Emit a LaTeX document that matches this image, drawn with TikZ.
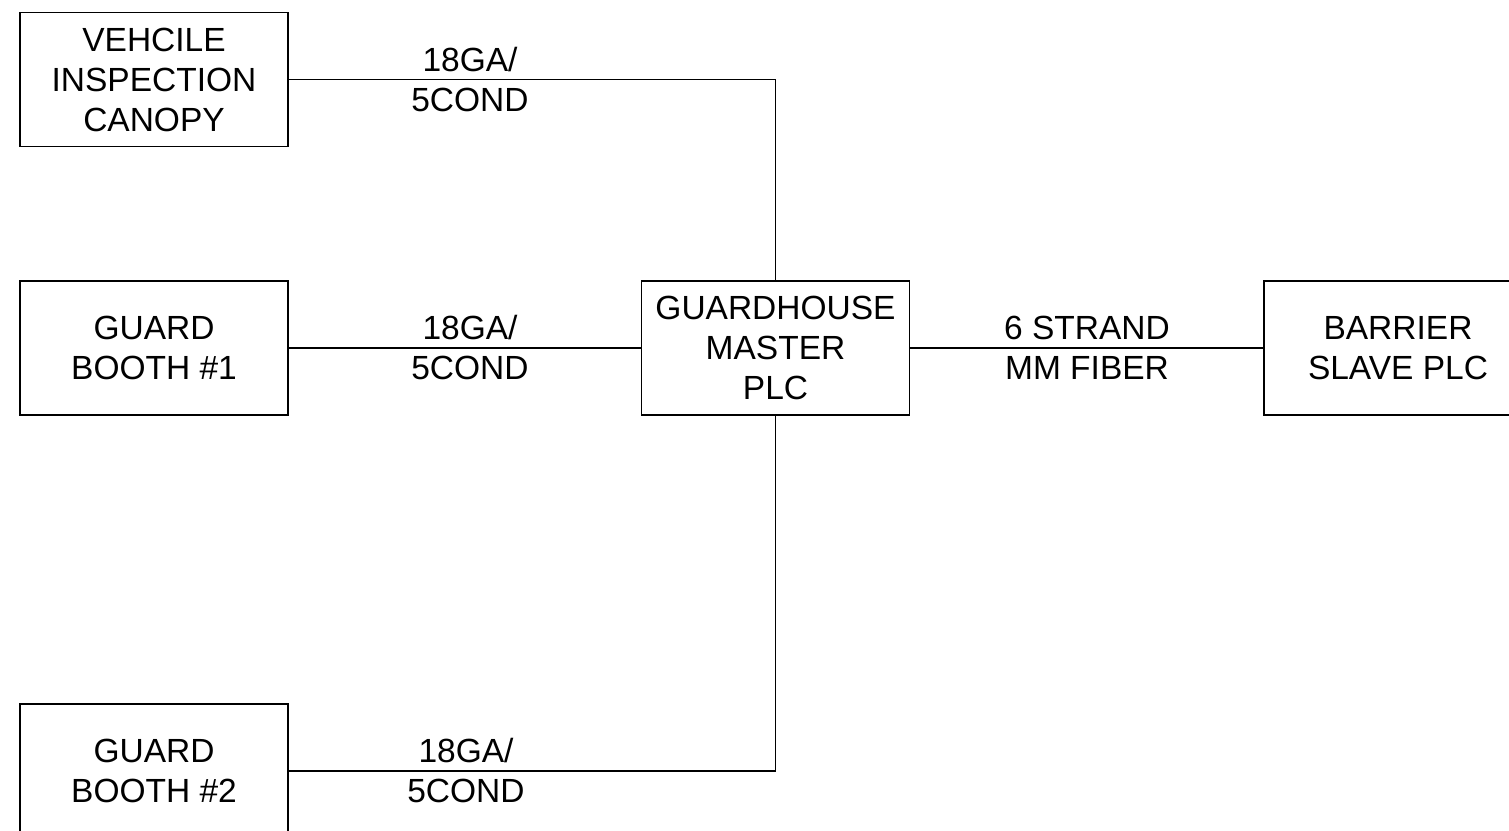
\documentclass[tikz,border=0pt]{standalone}
\usepackage{fontspec}
\setmainfont{Liberation Sans}
\begin{document}
\begin{tikzpicture}[x=1pt,y=-1pt,
  blk/.style={draw,line width=1.9pt,minimum width=268pt,minimum height=134pt,align=center,inner sep=0pt,
    font=\fontsize{33.5}{40}\selectfont},
  lbl/.style={align=center,inner sep=0pt,font=\fontsize{33.5}{40}\selectfont},
  wire/.style={line width=1.6pt}]
\clip (0,0) rectangle (1509,830);
\useasboundingbox (0,0) rectangle (1509,830);
\node[blk] (canopy) at (154,79.5) {VEHCILE\\INSPECTION\\CANOPY};
\node[blk] (booth1) at (154,348) {GUARD\\BOOTH \#1};
\node[blk] (booth2) at (154,771) {GUARD\\BOOTH \#2};
\node[blk] (master) at (775.5,348) {GUARDHOUSE\\MASTER\\PLC};
\node[blk] (barrier) at (1398,348) {BARRIER\\SLAVE PLC};
\draw[wire] (canopy.east) -- (master.north |- canopy.east) -- (master.north);
\draw[wire] (booth1.east) -- (master.west);
\draw[wire] (master.south) -- (master.south |- booth2.east) -- (booth2.east);
\draw[wire] (master.east) -- (barrier.west);
\node[lbl] (l1) at (470,80) {18GA/\\5COND};
\node[lbl] (l2) at (470,348) {18GA/\\5COND};
\node[lbl] (l3) at (466,771) {18GA/\\5COND};
\node[lbl] (l4) at (1087,348) {6 STRAND\\MM FIBER};
\end{tikzpicture}
\end{document}
